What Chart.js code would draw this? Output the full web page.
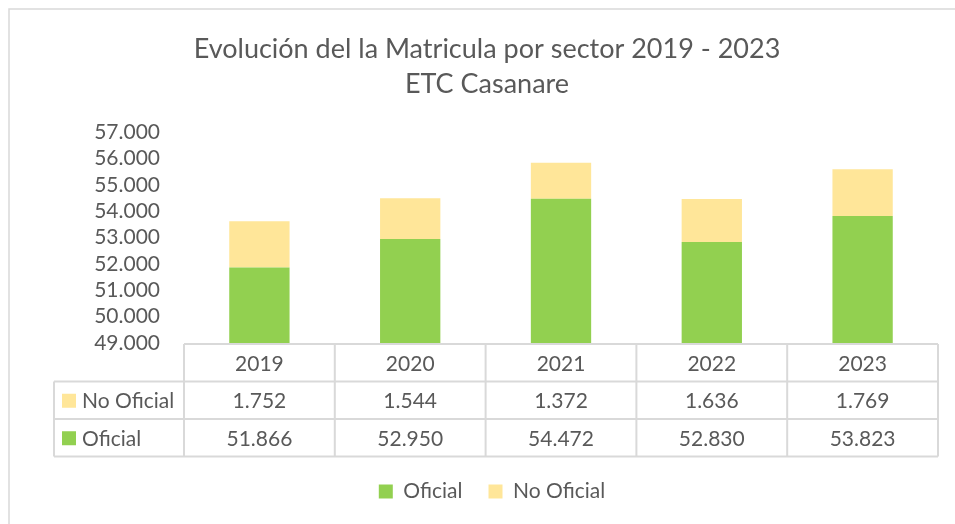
<!DOCTYPE html>
<html>
<head>
<meta charset="utf-8">
<script src="https://cdn.jsdelivr.net/npm/chart.js@4/dist/chart.umd.min.js"></script>
<style>
  html, body { margin: 0; padding: 0; background: #ffffff; }
  #wrap { width: 955px; height: 524px; position: relative; }
</style>
</head>
<body>
<div id="wrap"><canvas id="c" width="955" height="524"></canvas></div>
<script>
const categories = ['2019', '2020', '2021', '2022', '2023'];
const oficial = [51866, 52950, 54472, 52830, 53823];
const noOficial = [1752, 1544, 1372, 1636, 1769];
const seriesNames = ['Oficial', 'No Oficial'];
const yTicksMin = 49000;
const yTicksMax = 57000;
const yTickStep = 1000;
const titleLines = ['Evolución del la Matricula por sector 2019 - 2023', 'ETC Casanare'];

const GREEN = '#92D050';
const YELLOW = '#FFE699';
const TEXT = '#595959';
const GRID = '#D9D9D9';
const FONT = 'Lato, "Open Sans", sans-serif';

function fmt(v) {
  return String(Math.round(v)).replace(/\B(?=(\d{3})+(?!\d))/g, '.');
}

const frame = {
  id: 'frame',
  beforeDraw(chart) {
    const ctx = chart.ctx;
    ctx.save();
    ctx.fillStyle = '#ffffff';
    ctx.fillRect(0, 0, chart.width, chart.height);
    ctx.strokeStyle = GRID;
    ctx.lineWidth = 1.5;
    ctx.strokeRect(9, 9, chart.width + 20, chart.height + 20);
    ctx.restore();
  }
};

const shiftBoxes = {
  id: 'shiftBoxes',
  afterLayout(chart) {
    const lg = chart.legend;
    lg.left += 23;
    lg.right += 23;
    const tb = chart.titleBlock;
    tb.left += 18;
    tb.right += 18;
  }
};

const dataTable = {
  id: 'dataTable',
  afterDraw(chart) {
    const ctx = chart.ctx;
    const x = chart.scales.x;
    const area = chart.chartArea;
    const half = (x.getPixelForValue(1) - x.getPixelForValue(0)) / 2;
    const left0 = 54;
    const colL = area.left;
    const colR = area.right;
    const top = area.bottom + 1;
    const rh = 37.5;
    const rows = [
      { name: seriesNames[1], color: YELLOW, vals: noOficial },
      { name: seriesNames[0], color: GREEN, vals: oficial }
    ];
    ctx.save();
    ctx.strokeStyle = GRID;
    ctx.lineWidth = 2;
    ctx.beginPath();
    ctx.moveTo(colL, top); ctx.lineTo(colR, top);
    for (let r = 1; r <= 3; r++) {
      ctx.moveTo(left0, top + rh * r); ctx.lineTo(colR, top + rh * r);
    }
    ctx.moveTo(left0, top + rh); ctx.lineTo(left0, top + rh * 3);
    for (let i = 0; i < categories.length; i++) {
      const xl = x.getPixelForValue(i) - half;
      ctx.moveTo(xl, top); ctx.lineTo(xl, top + rh * 3);
    }
    ctx.moveTo(colR, top); ctx.lineTo(colR, top + rh * 3);
    ctx.stroke();

    ctx.fillStyle = TEXT;
    ctx.font = '21px ' + FONT;
    ctx.textBaseline = 'middle';
    ctx.textAlign = 'center';
    categories.forEach((c, i) => {
      ctx.fillText(c, x.getPixelForValue(i), top + rh / 2 + 1);
    });
    rows.forEach((row, r) => {
      const cy = top + rh * (r + 1) + rh / 2 + 1;
      ctx.textAlign = 'center';
      ctx.fillStyle = TEXT;
      row.vals.forEach((v, i) => {
        ctx.fillText(fmt(v), x.getPixelForValue(i), cy);
      });
      ctx.fillStyle = row.color;
      ctx.fillRect(62, cy - 7.5, 14, 14);
      ctx.fillStyle = TEXT;
      ctx.textAlign = 'left';
      ctx.fillText(row.name, 82, cy);
    });
    ctx.restore();
  }
};

new Chart(document.getElementById('c'), {
  type: 'bar',
  data: {
    labels: categories,
    datasets: [
      { label: seriesNames[0], data: oficial, backgroundColor: GREEN, borderWidth: 0 },
      { label: seriesNames[1], data: noOficial, backgroundColor: YELLOW, borderWidth: 0 }
    ]
  },
  options: {
    responsive: false,
    animation: false,
    devicePixelRatio: 1,
    layout: { padding: { left: 0, right: 17, top: 0, bottom: 12 } },
    datasets: { bar: { categoryPercentage: 1, barPercentage: 0.4 } },
    plugins: {
      title: {
        display: true,
        text: titleLines,
        color: TEXT,
        font: { family: FONT, size: 27, weight: 'normal', lineHeight: 1.3 },
        padding: { top: 32, bottom: 30 }
      },
      legend: {
        position: 'bottom',
        labels: {
          color: TEXT,
          font: { family: FONT, size: 21 },
          boxWidth: 14,
          boxHeight: 14,
          padding: 26
        }
      },
      tooltip: { enabled: false }
    },
    scales: {
      x: {
        stacked: true,
        grid: { display: false, drawTicks: false },
        border: { display: false },
        ticks: { display: false },
        afterFit(scale) { scale.height = 112; }
      },
      y: {
        stacked: true,
        min: yTicksMin,
        max: yTicksMax,
        grid: { display: false, drawTicks: false },
        border: { display: false },
        ticks: {
          stepSize: yTickStep,
          autoSkip: false,
          color: TEXT,
          font: { family: FONT, size: 21 },
          padding: 24,
          callback: (v) => fmt(v)
        },
        afterFit(scale) { scale.width = 184; }
      }
    }
  },
  plugins: [frame, shiftBoxes, dataTable]
});
</script>
</body>
</html>
